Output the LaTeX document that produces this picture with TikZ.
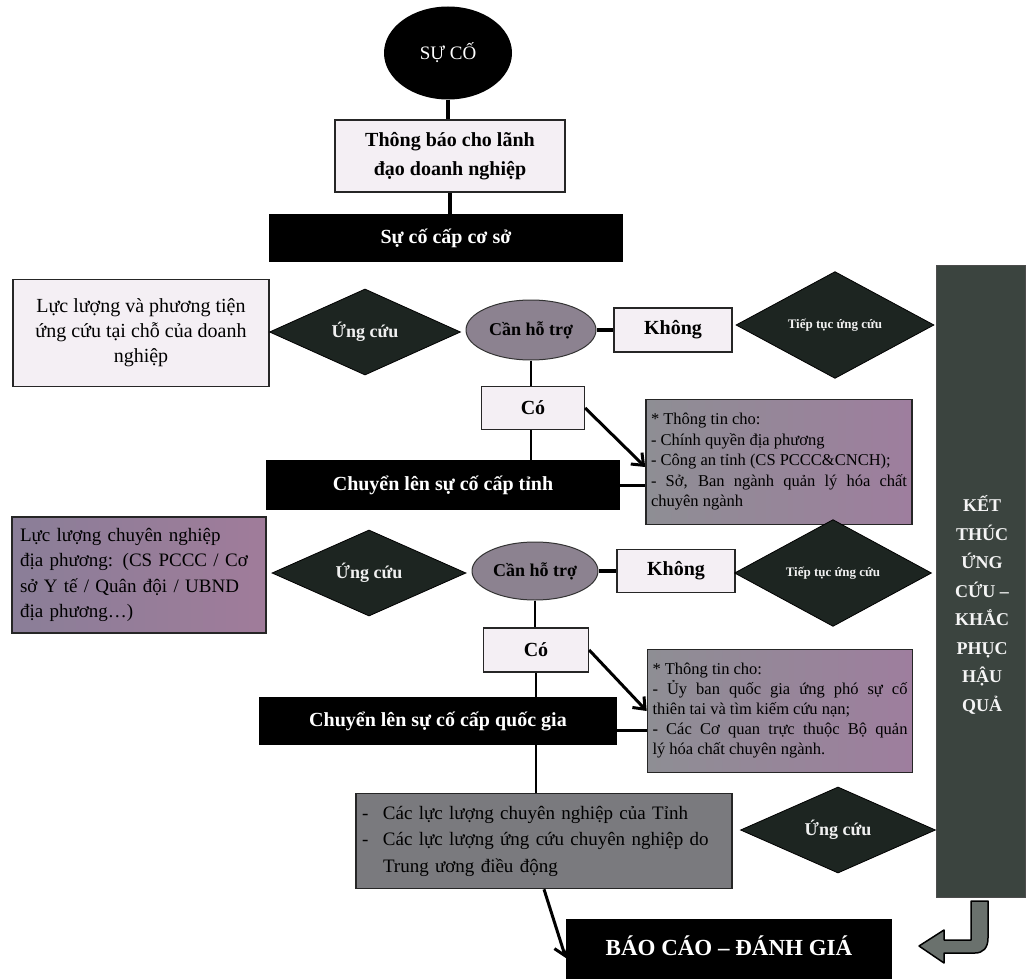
\documentclass[tikz,border=0pt]{standalone}
\usepackage{fontspec}
\setmainfont{Liberation Serif}
\usetikzlibrary{shapes.geometric,arrows.meta,calc}
\newcommand\fsz[2]{\fontsize{#1}{#2}\selectfont}
\definecolor{lightfill}{HTML}{F4EFF4}
\definecolor{ellfill}{HTML}{8C8290}
\definecolor{diafill}{HTML}{1D2521}
\definecolor{ketfill}{HTML}{3B443F}
\definecolor{infoL}{HTML}{8E8E94}
\definecolor{infoR}{HTML}{9E7E9E}
\definecolor{boxthree}{HTML}{7A7A7E}
\definecolor{lftwoL}{HTML}{8A7E98}
\definecolor{lftwoR}{HTML}{A07C9A}
\definecolor{uturn}{HTML}{6A716D}
\tikzset{
  lightbox/.style={draw=black!85, line width=1.3pt, fill=lightfill, inner sep=0pt, align=center},
  blackbox/.style={fill=black, text=white, inner sep=0pt, align=center, font=\bfseries\fsz{20}{24}},
  diabox/.style={diamond, fill=diafill, draw=black, line width=0.8pt, inner sep=0pt, text=white!88!gray, font=\bfseries},
  ellbox/.style={ellipse, fill=ellfill, draw=black!80, line width=1pt, inner sep=0pt, font=\bfseries\fsz{18}{20}},
  infobox/.style={draw=black!85, line width=1.6pt, left color=infoL, right color=infoR, inner sep=0pt},
  thickconn/.style={line width=4pt},
  thinconn/.style={line width=2.2pt},
  arrowconn/.style={line width=3pt, -{Straight Barb[length=10pt,width=16pt]}},
}
\begin{document}
\begin{tikzpicture}[x=1pt,y=-1pt]
\useasboundingbox (0,0) rectangle (1029,979);
\fill[white] (0,0) rectangle (1029,979);

% top
\node[ellipse, fill=black, minimum width=128pt, minimum height=93pt, inner sep=0pt, text=white, font=\fsz{19}{22}] (suco) at (448,53) {SỰ CỐ};
\node[lightbox, minimum width=230pt, minimum height=72pt, font=\bfseries\fsz{20}{29}] (tb) at (450,156) {Thông báo cho lãnh\\đạo doanh nghiệp};
\node[blackbox, minimum width=354pt, minimum height=48pt, font=\bfseries\fsz{20}{24}] (cs) at (446,238) {Sự cố cấp cơ sở};

% row 1
\node[lightbox, minimum width=256pt, minimum height=107pt, font=\fsz{20}{25}] (lfa) at (141,333) {Lực lượng và phương tiện\\ứng cứu tại chỗ của doanh\\nghiệp};
\node[diabox, minimum width=191pt, minimum height=81pt, font=\bfseries\fsz{18}{20}] (uca) at (365,332) {Ứng cứu};
\node[ellbox, minimum width=130pt, minimum height=60pt] (cha) at (531,330) {Cần hỗ trợ};
\node[lightbox, minimum width=118pt, minimum height=44pt, font=\bfseries\fsz{20}{24}] (ka) at (673,330) {Không};
\node[diabox, minimum width=198pt, minimum height=93pt, font=\bfseries\fsz{13}{15}] (tta) at (835,325) {Tiếp tục ứng cứu};
\node[fill=ketfill, draw=black!70, line width=1pt, minimum width=89pt, minimum height=632pt, inner sep=0pt] (ket) at (981,581) {};
\node[text=white!92!gray, font=\bfseries\fsz{18}{28.5}, align=center, inner sep=0pt] (kettxt) at (982,605) {KẾT\\THÚC\\ỨNG\\CỨU –\\KHẮC\\PHỤC\\HẬU\\QUẢ};

\node[lightbox, minimum width=103pt, minimum height=43pt, font=\bfseries\fsz{20}{24}] (coa) at (533,408) {Có};
\node[blackbox, minimum width=354pt, minimum height=50pt] (tinh) at (443,485) {Chuyển lên sự cố cấp tỉnh};
\node[infobox, minimum width=266pt, minimum height=125pt] (infoa) at (779,462) {\parbox{256pt}{\fsz{16.5}{20.5}* Thông tin cho:\\- Chính quyền địa phương\\- Công an tỉnh (CS PCCC\&CNCH);\\- Sở, Ban ngành quản lý hóa chất\linebreak chuyên ngành}};

% row 2
\node[draw=black!85, line width=1.5pt, left color=lftwoL, right color=lftwoR, minimum width=254pt, minimum height=116pt, inner sep=0pt, text width=238pt, align=left, font=\fsz{19}{25.5}] (lfb) at (139,575) {Lực lượng chuyên nghiệp\\địa phương: (CS PCCC / Cơ\\sở Y tế / Quân đội / UBND\\địa phương…)};
\node[diabox, minimum width=194pt, minimum height=80pt, font=\bfseries\fsz{18}{20}] (ucb) at (369,573) {Ứng cứu};
\node[ellbox, minimum width=126pt, minimum height=58pt] (chb) at (535,571) {Cần hỗ trợ};
\node[lightbox, minimum width=118pt, minimum height=43pt, font=\bfseries\fsz{20}{24}] (kb) at (676,571) {Không};
\node[diabox, minimum width=197pt, minimum height=93pt, font=\bfseries\fsz{13}{15}] (ttb) at (833,573) {Tiếp tục ứng cứu};

\node[lightbox, minimum width=105pt, minimum height=44pt, font=\bfseries\fsz{20}{24}] (cob) at (536,650) {Có};
\node[blackbox, minimum width=358pt, minimum height=48pt] (qg) at (438,721) {Chuyển lên sự cố cấp quốc gia};
\node[infobox, minimum width=265pt, minimum height=123pt] (infob) at (780,711) {\parbox{255pt}{\fsz{16.5}{20}* Thông tin cho:\\- Ủy ban quốc gia ứng phó sự cố\linebreak thiên tai và tìm kiếm cứu nạn;\\- Các Cơ quan trực thuộc Bộ quản\linebreak lý hóa chất chuyên ngành.}};

% bottom
\node[draw=black!85, line width=1.6pt, fill=boxthree, minimum width=376pt, minimum height=95pt, inner sep=0pt, text width=364pt, align=left, font=\fsz{19}{26.5}] (bthree) at (544,841) {\makebox[21pt][l]{-}Các lực lượng chuyên nghiệp của Tỉnh\\\makebox[21pt][l]{-}Các lực lượng ứng cứu chuyên nghiệp do\\\hspace*{21pt}Trung ương điều động};
\node[diabox, minimum width=195pt, minimum height=81pt, font=\bfseries\fsz{18}{20}] (ucc) at (838,830) {Ứng cứu};
\node[blackbox, minimum width=326pt, minimum height=62pt, font=\bfseries\fsz{23}{26}, text depth=0pt] (bc) at (729,950) {\raisebox{8pt}{BÁO CÁO – ĐÁNH GIÁ}};

% connectors
\draw[thickconn] (suco.south) -- (suco.south |- tb.north);
\draw[thickconn] (tb.south) -- (tb.south |- cs.north);
\draw[thickconn] (cha.east) -- (ka.west);
\draw[thinconn] (cha.south) -- (cha.south |- coa.north);
\draw[thinconn] (coa.south -| cha.south) -- (cha.south |- tinh.north);
\draw[arrowconn] (coa.east) -- ([yshift=-5pt]infoa.west);
\draw[line width=3pt] (tinh.east) -- (tinh.east -| infoa.west);

\draw[thickconn] (chb.east) -- (kb.west);
\draw[thinconn] (chb.south) -- (chb.south |- cob.north);
\draw[thinconn] (cob.south) -- (cob.south |- qg.north);
\draw[arrowconn] (cob.east) -- (infob.west);
\draw[line width=3pt] ([yshift=-9pt]qg.east) -- ([yshift=-9pt]qg.east -| infob.west);
\draw[thinconn] (cob.south |- qg.south) -- (cob.south |- bthree.north);
\draw[arrowconn] (bthree.south) -- ([yshift=-8pt]bc.west);

% U-turn block arrow from ket to bc
\draw[fill=uturn, draw=black, line width=1.5pt, line join=round]
  (971,901) -- (988,901) -- (988,938) .. controls (988,948) and (983,953) .. (975,953)
  -- (944,953) -- (944,963) -- (919,946) -- (944,930) -- (944,940) -- (971,940) -- cycle;
\end{tikzpicture}
\end{document}
